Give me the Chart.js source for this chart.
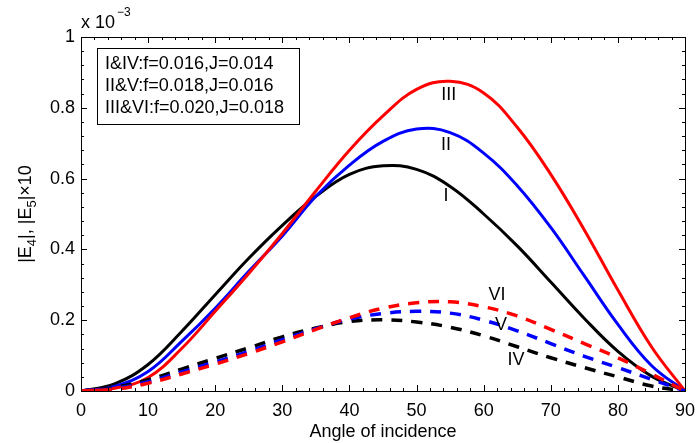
<!DOCTYPE html>
<html>
<head>
<meta charset="utf-8">
<script src="https://cdn.jsdelivr.net/npm/chart.js@4.4.0/dist/chart.umd.min.js"></script>
<style>
  html, body { margin: 0; padding: 0; background: #fff; }
  #wrap { width: 696px; height: 443px; }
</style>
</head>
<body>
<div id="wrap"><canvas id="chart" width="696" height="443"></canvas></div>
<script>
// --- data (values in units of 1e-3) ---
const angles = [0, 5, 10, 15, 20, 25, 30, 35, 40, 45, 50, 55, 60, 65, 70, 75, 80, 85, 90];

// solid curves |E4|
const curveI   = [0, 0.020, 0.075, 0.168, 0.272, 0.375, 0.468, 0.550, 0.612, 0.636, 0.626, 0.578, 0.500, 0.410, 0.308, 0.205, 0.112, 0.042, 0];
const curveII  = [0, 0.013, 0.055, 0.140, 0.234, 0.338, 0.438, 0.550, 0.638, 0.705, 0.740, 0.730, 0.672, 0.580, 0.462, 0.325, 0.188, 0.072, 0];
const curveIII = [0, 0.008, 0.038, 0.120, 0.225, 0.332, 0.445, 0.565, 0.680, 0.777, 0.852, 0.875, 0.842, 0.745, 0.612, 0.455, 0.285, 0.125, 0];

// dashed curves |E5|x10
const curveIV  = [0, 0.010, 0.032, 0.062, 0.092, 0.122, 0.153, 0.178, 0.196, 0.201, 0.195, 0.180, 0.156, 0.125, 0.094, 0.066, 0.040, 0.014, 0];
const curveV   = [0, 0.007, 0.026, 0.054, 0.082, 0.112, 0.145, 0.176, 0.203, 0.219, 0.225, 0.220, 0.200, 0.170, 0.134, 0.098, 0.066, 0.033, 0];
const curveVI  = [0, 0.005, 0.022, 0.048, 0.076, 0.106, 0.139, 0.174, 0.207, 0.234, 0.249, 0.252, 0.238, 0.212, 0.174, 0.134, 0.094, 0.048, 0];

const xTickStep = 10, xMinorStep = 2;
const yTickStep = 0.2, yMinorStep = 0.04;

const curveLabels = [
  { text: 'III', x: 54.8, y: 0.836 },
  { text: 'II',  x: 54.4, y: 0.694 },
  { text: 'I',   x: 54.4, y: 0.552 },
  { text: 'VI',  x: 62.0, y: 0.272 },
  { text: 'V',   x: 62.6, y: 0.187 },
  { text: 'IV',  x: 64.8, y: 0.088 }
];
const legendLines = ['I&IV:f=0.016,J=0.014', 'II&V:f=0.018,J=0.016', 'III&VI:f=0.020,J=0.018'];

const FONT = '"Liberation Sans", Arial, Helvetica, sans-serif';

function pts(ys) {
  return angles.map((a, i) => ({ x: a, y: ys[i] }));
}

function line(ys, color, dashed, order) {
  return {
    data: pts(ys),
    borderColor: color,
    borderWidth: dashed ? 3.5 : 3,
    borderDash: dashed ? [11, 9] : [],
    borderCapStyle: 'butt',
    pointRadius: 0,
    showLine: true,
    fill: false,
    tension: 0.4,
    order: order
  };
}

// --- plugins: inward ticks, box, labels ---
const frame = {
  id: 'frame',
  afterDatasetsDraw(chart) {
    const { ctx, chartArea: a, scales: { x, y } } = chart;
    ctx.save();
    ctx.strokeStyle = '#000';
    ctx.lineWidth = 1;
    ctx.beginPath();
    // x ticks (bottom and top)
    for (let v = x.min; v <= x.max + 1e-9; v += xMinorStep) {
      const px = Math.round(x.getPixelForValue(v)) + 0.5;
      const len = Math.abs(v % xTickStep) < 1e-6 ? 6 : 3;
      ctx.moveTo(px, a.bottom); ctx.lineTo(px, a.bottom - len);
      ctx.moveTo(px, a.top); ctx.lineTo(px, a.top + len);
    }
    // y ticks (left and right)
    for (let k = 0; k <= Math.round((y.max - y.min) / yMinorStep); k++) {
      const v = y.min + k * yMinorStep;
      const py = Math.round(y.getPixelForValue(v)) + 0.5;
      const r = v / yTickStep;
      const len = Math.abs(r - Math.round(r)) < 1e-6 ? 6 : 3;
      ctx.moveTo(a.left, py); ctx.lineTo(a.left + len, py);
      ctx.moveTo(a.right, py); ctx.lineTo(a.right - len, py);
    }
    ctx.stroke();
    ctx.strokeRect(Math.round(a.left) + 0.5, Math.round(a.top) + 0.5,
      Math.round(a.right - a.left), Math.round(a.bottom - a.top));

    // curve labels
    ctx.fillStyle = '#000';
    ctx.font = '18px ' + FONT;
    ctx.textAlign = 'center';
    ctx.textBaseline = 'middle';
    curveLabels.forEach(l => {
      ctx.fillText(l.text, x.getPixelForValue(l.x), y.getPixelForValue(l.y));
    });

    // legend box
    ctx.fillStyle = '#fff';
    ctx.fillRect(98, 49, 201, 75);
    ctx.strokeRect(97.5, 48.5, 202, 76);
    ctx.fillStyle = '#000';
    ctx.textAlign = 'left';
    legendLines.forEach((t, i) => ctx.fillText(t, 105, 64 + i * 22));

    // exponent note
    ctx.textBaseline = 'alphabetic';
    ctx.font = '18px ' + FONT;
    ctx.fillText('x 10', 81, 28);
    ctx.font = '12px ' + FONT;
    ctx.fillText('\u22123', 117, 16);

    // y title with subscripts
    ctx.save();
    ctx.translate(31, 214);
    ctx.rotate(-Math.PI / 2);
    const parts = [['|E', 18, 0], ['4', 13, 5], ['|, |E', 18, 0], ['5', 13, 5], ['|\u00d710', 18, 0]];
    let w = 0;
    parts.forEach(p => { ctx.font = p[1] + 'px ' + FONT; w += ctx.measureText(p[0]).width; });
    let cx = -w / 2;
    parts.forEach(p => {
      ctx.font = p[1] + 'px ' + FONT;
      ctx.fillText(p[0], cx, p[2]);
      cx += ctx.measureText(p[0]).width;
    });
    ctx.restore();
    ctx.restore();
  }
};

new Chart(document.getElementById('chart'), {
  type: 'scatter',
  data: {
    datasets: [
      line(curveVI, '#ff0000', true, 1),
      line(curveV, '#0000ff', true, 2),
      line(curveIV, '#000000', true, 3),
      line(curveIII, '#ff0000', false, 4),
      line(curveII, '#0000ff', false, 5),
      line(curveI, '#000000', false, 6)
    ]
  },
  options: {
    responsive: false,
    devicePixelRatio: 1,
    animation: false,
    layout: { padding: { top: 37, right: 11, left: 0, bottom: 0 } },
    plugins: { legend: { display: false }, tooltip: { enabled: false } },
    scales: {
      x: {
        type: 'linear', min: 0, max: 90,
        grid: { display: false, drawTicks: false },
        border: { display: false },
        ticks: { stepSize: xTickStep, color: '#000', padding: 9, maxRotation: 0,
                 font: { family: FONT, size: 18 } },
        title: { display: true, text: 'Angle of incidence', color: '#000',
                 font: { family: FONT, size: 18 }, padding: { top: 0, bottom: 0 } },
        afterFit: s => { s.height = 52; s.paddingLeft = 0; s.paddingRight = 0; }
      },
      y: {
        min: 0, max: 1,
        grid: { display: false, drawTicks: false },
        border: { display: false },
        ticks: { stepSize: yTickStep, color: '#000', padding: 6,
                 font: { family: FONT, size: 18 },
                 callback: v => String(Math.round(v * 10) / 10) },
        afterFit: s => { s.width = 81; s.paddingTop = 0; s.paddingBottom = 0; }
      }
    }
  },
  plugins: [frame]
});
</script>
</body>
</html>
